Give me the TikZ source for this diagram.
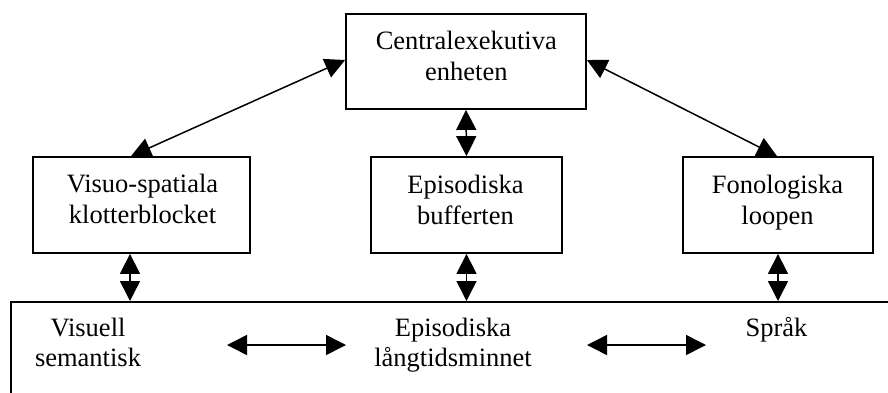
\documentclass[tikz,border=0pt]{standalone}
\usepackage{fontspec}
\setmainfont{Liberation Serif}
\usetikzlibrary{arrows.meta}
\begin{document}
\begin{tikzpicture}[x=1pt,y=-1pt,
  box/.style={draw=black,line width=1.8pt,fill=white,inner sep=0pt},
  lbl/.style={align=center,anchor=base,inner sep=0pt,font=\fontsize{26.5}{31}\selectfont},
  lbllow/.style={align=center,anchor=base,inner sep=0pt,font=\fontsize{26.5}{30}\selectfont},
  dbl/.style={line width=1.5pt,{Triangle[length=20pt,width=20pt]}-{Triangle[length=20pt,width=20pt]}}]
\useasboundingbox (0,0) rectangle (888,392);
\fill[white] (0,0) rectangle (888,392);
\clip (0,0) rectangle (888,392);
% boxes
\node[box,minimum width=240pt,minimum height=95pt] (ce) at (466,61.5) {};
\node[box,minimum width=217pt,minimum height=96pt] (vs) at (141.5,205) {};
\node[box,minimum width=191pt,minimum height=96pt] (eb) at (466.5,205) {};
\node[box,minimum width=190pt,minimum height=96pt] (fl) at (778,205) {};
\node[box,minimum width=900pt,minimum height=130pt,anchor=north west] (ltm) at (10,301) {};
% texts (base anchor = baseline of last line)
\node[lbl] (tce) at (466.3,80.5) {Centralexekutiva\\enheten};
\node[lbl] (tvs) at (142.5,223.5) {Visuo-spatiala\\klotterblocket};
\node[lbl] (teb) at (465.5,224) {Episodiska\\bufferten};
\node[lbl] (tfl) at (777.5,224) {Fonologiska\\loopen};
\node[lbllow] (tvis) at (88,366) {Visuell\\semantisk};
\node[lbllow] (tepl) at (453,366.5) {Episodiska\\långtidsminnet};
\node[lbllow] (tspr) at (776.5,336.7) {Språk};
% connector end points
\coordinate (vsTop) at ([xshift=-10.5pt]vs.north);
\coordinate (flTop) at ([xshift=-1pt]fl.north);
\coordinate (vsBot) at ([xshift=-11.5pt]vs.south);
\coordinate (h1a) at (227,345);
\coordinate (h1b) at (346,345);
\coordinate (h2a) at (587,345);
\coordinate (h2b) at (706,345);
% connectors
\draw[dbl] ([yshift=1.5pt]ce.west) -- (vsTop);
\draw[dbl] ([yshift=1.5pt]ce.east) -- (flTop);
\draw[dbl] (ce.south) -- (eb.north);
\draw[dbl] (vsBot) -- (vsBot |- ltm.north);
\draw[dbl] (eb.south) -- (eb.south |- ltm.north);
\draw[dbl] (fl.south) -- (fl.south |- ltm.north);
\draw[dbl] (h1a) -- (h1b);
\draw[dbl] (h2a) -- (h2b);
\end{tikzpicture}
\end{document}
